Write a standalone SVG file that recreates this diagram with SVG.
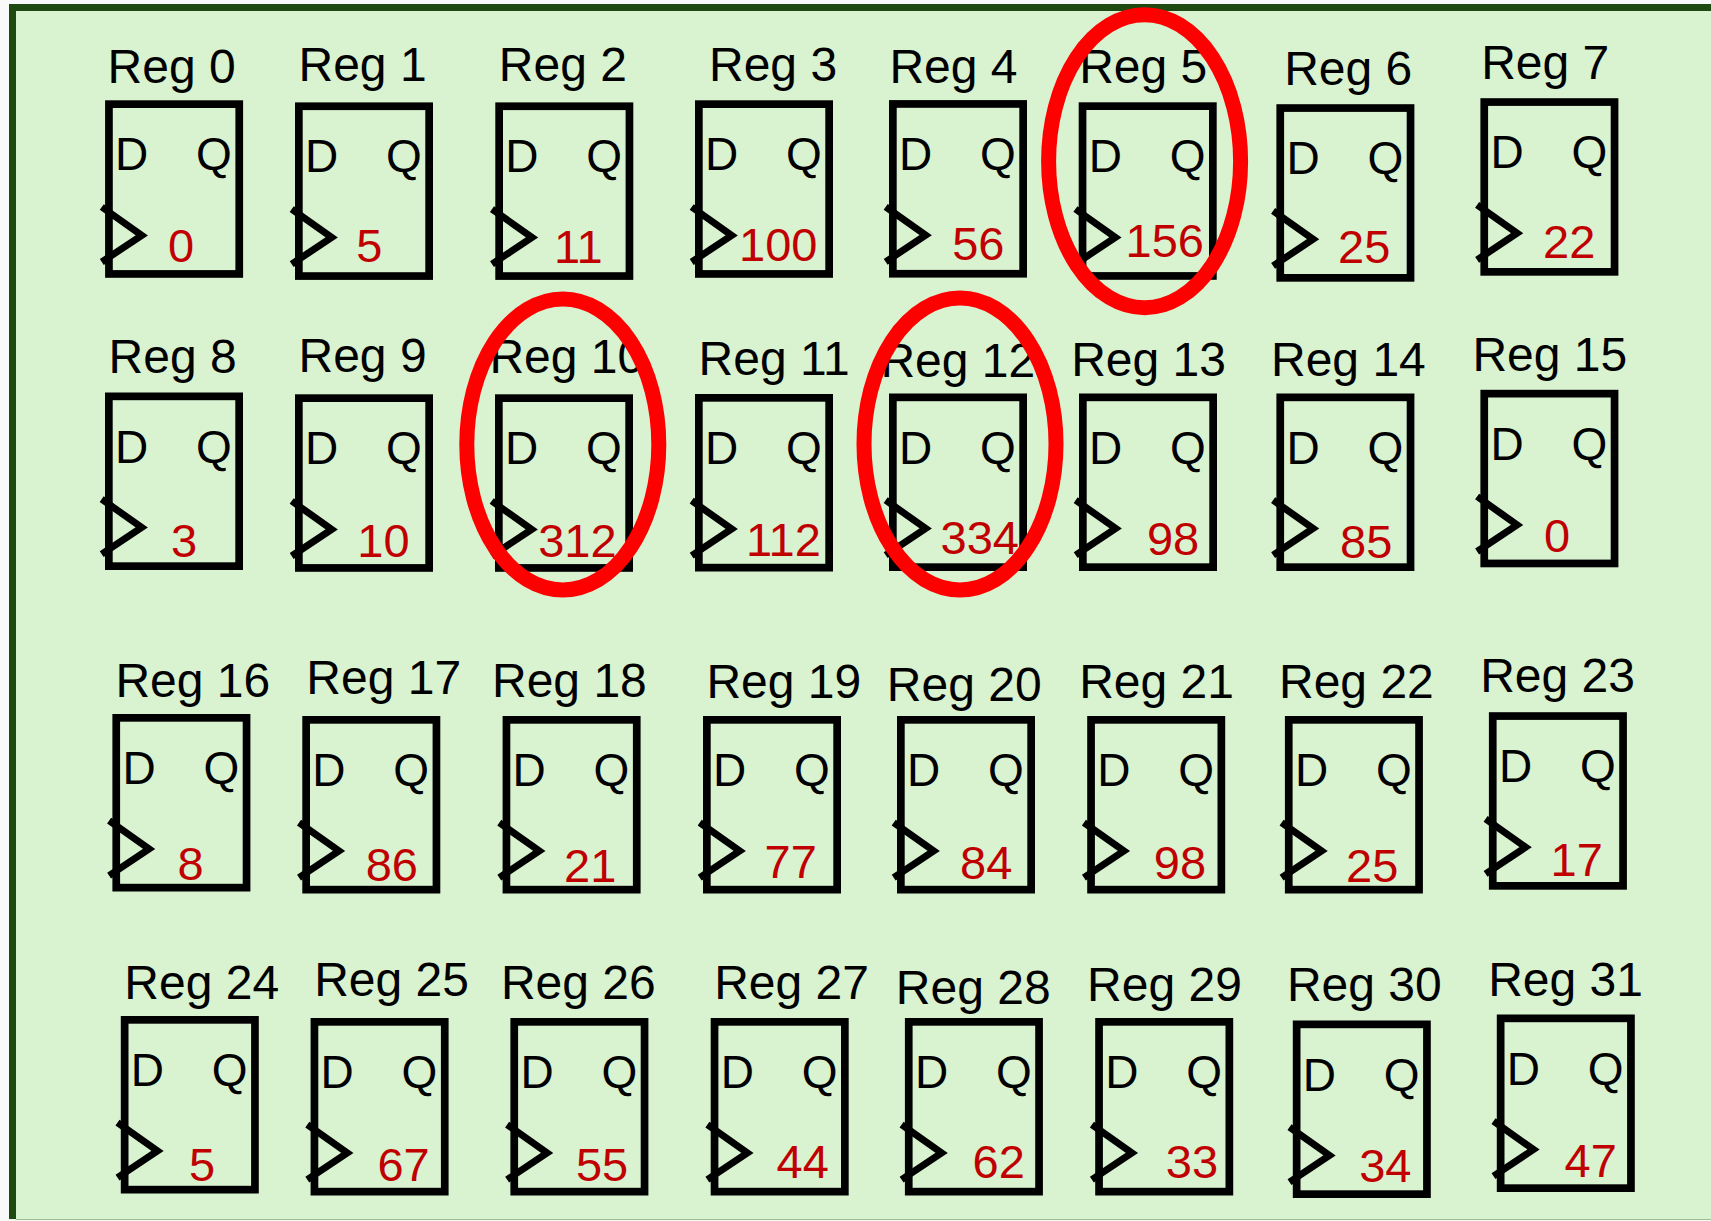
<svg xmlns="http://www.w3.org/2000/svg" width="1711" height="1221" viewBox="0 0 1711 1221">
<style>
text{font-family:"Liberation Sans",Arial,sans-serif}
.box{fill:none;stroke:#000;stroke-width:7.7}
.clk{fill:none;stroke:#000;stroke-width:7;stroke-linejoin:miter}
.dq{font-size:46px;fill:#000}
.lbl{font-size:48px;fill:#000}
.num{font-size:47px;fill:#c00000}
.hl{fill:none;stroke:#ff0000;stroke-width:15}
</style>
<defs>
<g id="ffbody">
<rect class="box" x="3.85" y="3.85" width="130.3" height="169.8"/>
<polyline class="clk" points="-3.3,106.7 36.7,135 -3.3,161.7"/>
</g>
</defs>
<rect x="0" y="0" width="1711" height="1221" fill="#f9f9f9"/>
<rect x="9" y="4" width="1702" height="1215.5" fill="#d9f2d0"/>
<path d="M12.5,1219 V7.5 H1711" fill="none" stroke="#1e4a12" stroke-width="7"/>
<line x1="16" y1="1219.5" x2="1711" y2="1219.5" stroke="#9dbd8f" stroke-width="1"/>

<g id="reg0"><g transform="translate(105.1,100.3)"><use href="#ffbody"/><text class="dq" x="10" y="70">D</text><text class="dq" x="91" y="70">Q</text></g><text class="lbl" x="107.6" y="82.8">Reg 0</text><text class="num" x="168" y="261.7">0</text></g>
<g id="reg1"><g transform="translate(295,102.4)"><use href="#ffbody"/><text class="dq" x="10" y="70">D</text><text class="dq" x="91" y="70">Q</text></g><text class="lbl" x="298.5" y="81.4">Reg 1</text><text class="num" x="356.2" y="261.7">5</text></g>
<g id="reg2"><g transform="translate(495.3,102.4)"><use href="#ffbody"/><text class="dq" x="10" y="70">D</text><text class="dq" x="91" y="70">Q</text></g><text class="lbl" x="498.8" y="81.4">Reg 2</text><text class="num" x="553.9" y="263">11</text></g>
<g id="reg3"><g transform="translate(695,100.3)"><use href="#ffbody"/><text class="dq" x="10" y="70">D</text><text class="dq" x="91" y="70">Q</text></g><text class="lbl" x="709" y="80.7">Reg 3</text><text class="num" x="739.1" y="261">100</text></g>
<g id="reg4"><g transform="translate(889,100.1)"><use href="#ffbody"/><text class="dq" x="10" y="70">D</text><text class="dq" x="91" y="70">Q</text></g><text class="lbl" x="889.4" y="82.8">Reg 4</text><text class="num" x="952.2" y="259.6">56</text></g>
<g id="reg5"><g transform="translate(1078.7,102.3)"><use href="#ffbody"/><text class="dq" x="10" y="70">D</text><text class="dq" x="91" y="70">Q</text></g><text class="lbl" x="1079.2" y="82.8">Reg 5</text><text class="num" x="1125.6" y="257">156</text></g>
<g id="reg6"><g transform="translate(1276.4,104.2)"><use href="#ffbody"/><text class="dq" x="10" y="70">D</text><text class="dq" x="91" y="70">Q</text></g><text class="lbl" x="1284.2" y="84.7">Reg 6</text><text class="num" x="1338.1" y="263.4">25</text></g>
<g id="reg7"><g transform="translate(1480.4,98.2)"><use href="#ffbody"/><text class="dq" x="10" y="70">D</text><text class="dq" x="91" y="70">Q</text></g><text class="lbl" x="1481.2" y="79">Reg 7</text><text class="num" x="1543.1" y="257.7">22</text></g>

<g id="reg8"><g transform="translate(105,392.5)"><use href="#ffbody"/><text class="dq" x="10" y="70">D</text><text class="dq" x="91" y="70">Q</text></g><text class="lbl" x="108.6" y="373.2">Reg 8</text><text class="num" x="171" y="556.7">3</text></g>
<g id="reg9"><g transform="translate(295,394.3)"><use href="#ffbody"/><text class="dq" x="10" y="70">D</text><text class="dq" x="91" y="70">Q</text></g><text class="lbl" x="298.5" y="371.5">Reg 9</text><text class="num" x="357.3" y="556.7">10</text></g>
<g id="reg10"><g transform="translate(495,394.3)"><use href="#ffbody"/><text class="dq" x="10" y="70">D</text><text class="dq" x="91" y="70">Q</text></g><text class="lbl" x="489.4" y="373.2">Reg 10</text><text class="num" x="538.2" y="556.7">312</text></g>
<g id="reg11"><g transform="translate(695,394)"><use href="#ffbody"/><text class="dq" x="10" y="70">D</text><text class="dq" x="91" y="70">Q</text></g><text class="lbl" x="698.6" y="375">Reg 11</text><text class="num" x="745.9" y="555.6">112</text></g>
<g id="reg12"><g transform="translate(889,393.5)"><use href="#ffbody"/><text class="dq" x="10" y="70">D</text><text class="dq" x="91" y="70">Q</text></g><text class="lbl" x="880.4" y="377.4">Reg 12</text><text class="num" x="940.5" y="554.2">334</text></g>
<g id="reg13"><g transform="translate(1079,393.5)"><use href="#ffbody"/><text class="dq" x="10" y="70">D</text><text class="dq" x="91" y="70">Q</text></g><text class="lbl" x="1071.2" y="376.2">Reg 13</text><text class="num" x="1146.9" y="555">98</text></g>
<g id="reg14"><g transform="translate(1276.4,393.5)"><use href="#ffbody"/><text class="dq" x="10" y="70">D</text><text class="dq" x="91" y="70">Q</text></g><text class="lbl" x="1271" y="376.2">Reg 14</text><text class="num" x="1340" y="558">85</text></g>
<g id="reg15"><g transform="translate(1480.4,389.8)"><use href="#ffbody"/><text class="dq" x="10" y="70">D</text><text class="dq" x="91" y="70">Q</text></g><text class="lbl" x="1472.4" y="370.6">Reg 15</text><text class="num" x="1544" y="552">0</text></g>

<g id="reg16"><g transform="translate(112.4,714)"><use href="#ffbody"/><text class="dq" x="10" y="70">D</text><text class="dq" x="91" y="70">Q</text></g><text class="lbl" x="115.4" y="696.7">Reg 16</text><text class="num" x="177.4" y="879.5">8</text></g>
<g id="reg17"><g transform="translate(302.3,716)"><use href="#ffbody"/><text class="dq" x="10" y="70">D</text><text class="dq" x="91" y="70">Q</text></g><text class="lbl" x="306.3" y="694.1">Reg 17</text><text class="num" x="365.7" y="880.7">86</text></g>
<g id="reg18"><g transform="translate(502.6,716)"><use href="#ffbody"/><text class="dq" x="10" y="70">D</text><text class="dq" x="91" y="70">Q</text></g><text class="lbl" x="492" y="696.7">Reg 18</text><text class="num" x="564" y="881.8">21</text></g>
<g id="reg19"><g transform="translate(703,716)"><use href="#ffbody"/><text class="dq" x="10" y="70">D</text><text class="dq" x="91" y="70">Q</text></g><text class="lbl" x="706.4" y="697.8">Reg 19</text><text class="num" x="764.5" y="878">77</text></g>
<g id="reg20"><g transform="translate(897,716)"><use href="#ffbody"/><text class="dq" x="10" y="70">D</text><text class="dq" x="91" y="70">Q</text></g><text class="lbl" x="886.8" y="700.5">Reg 20</text><text class="num" x="960.1" y="878.8">84</text></g>
<g id="reg21"><g transform="translate(1087.2,716)"><use href="#ffbody"/><text class="dq" x="10" y="70">D</text><text class="dq" x="91" y="70">Q</text></g><text class="lbl" x="1079.2" y="697.8">Reg 21</text><text class="num" x="1153.8" y="878.8">98</text></g>
<g id="reg22"><g transform="translate(1284.9,716)"><use href="#ffbody"/><text class="dq" x="10" y="70">D</text><text class="dq" x="91" y="70">Q</text></g><text class="lbl" x="1279" y="697.8">Reg 22</text><text class="num" x="1346" y="881.8">25</text></g>
<g id="reg23"><g transform="translate(1488.9,712.2)"><use href="#ffbody"/><text class="dq" x="10" y="70">D</text><text class="dq" x="91" y="70">Q</text></g><text class="lbl" x="1480.2" y="692.2">Reg 23</text><text class="num" x="1550.6" y="875.8">17</text></g>

<g id="reg24"><g transform="translate(120.8,1016)"><use href="#ffbody"/><text class="dq" x="10" y="70">D</text><text class="dq" x="91" y="70">Q</text></g><text class="lbl" x="124.3" y="999.4">Reg 24</text><text class="num" x="188.9" y="1181">5</text></g>
<g id="reg25"><g transform="translate(310.6,1018)"><use href="#ffbody"/><text class="dq" x="10" y="70">D</text><text class="dq" x="91" y="70">Q</text></g><text class="lbl" x="314.2" y="996.4">Reg 25</text><text class="num" x="377.4" y="1181">67</text></g>
<g id="reg26"><g transform="translate(510.4,1018)"><use href="#ffbody"/><text class="dq" x="10" y="70">D</text><text class="dq" x="91" y="70">Q</text></g><text class="lbl" x="500.9" y="998.6">Reg 26</text><text class="num" x="575.9" y="1181">55</text></g>
<g id="reg27"><g transform="translate(710.7,1018)"><use href="#ffbody"/><text class="dq" x="10" y="70">D</text><text class="dq" x="91" y="70">Q</text></g><text class="lbl" x="714.2" y="999.4">Reg 27</text><text class="num" x="776.6" y="1178.4">44</text></g>
<g id="reg28"><g transform="translate(904.9,1018)"><use href="#ffbody"/><text class="dq" x="10" y="70">D</text><text class="dq" x="91" y="70">Q</text></g><text class="lbl" x="895.8" y="1004.3">Reg 28</text><text class="num" x="972.5" y="1178.4">62</text></g>
<g id="reg29"><g transform="translate(1095.2,1018)"><use href="#ffbody"/><text class="dq" x="10" y="70">D</text><text class="dq" x="91" y="70">Q</text></g><text class="lbl" x="1087.1" y="1001.3">Reg 29</text><text class="num" x="1165.8" y="1178.4">33</text></g>
<g id="reg30"><g transform="translate(1292.8,1020.5)"><use href="#ffbody"/><text class="dq" x="10" y="70">D</text><text class="dq" x="91" y="70">Q</text></g><text class="lbl" x="1286.9" y="1001.3">Reg 30</text><text class="num" x="1359.2" y="1182.2">34</text></g>
<g id="reg31"><g transform="translate(1496.8,1014.5)"><use href="#ffbody"/><text class="dq" x="10" y="70">D</text><text class="dq" x="91" y="70">Q</text></g><text class="lbl" x="1488.2" y="995.6">Reg 31</text><text class="num" x="1564.6" y="1176.5">47</text></g>

<g id="highlights">
<ellipse class="hl" cx="1144.6" cy="161.2" rx="96" ry="146.5"/>
<ellipse class="hl" cx="562.8" cy="444.5" rx="96" ry="145.5"/>
<ellipse class="hl" cx="960" cy="444" rx="96" ry="146"/>
</g>
</svg>
